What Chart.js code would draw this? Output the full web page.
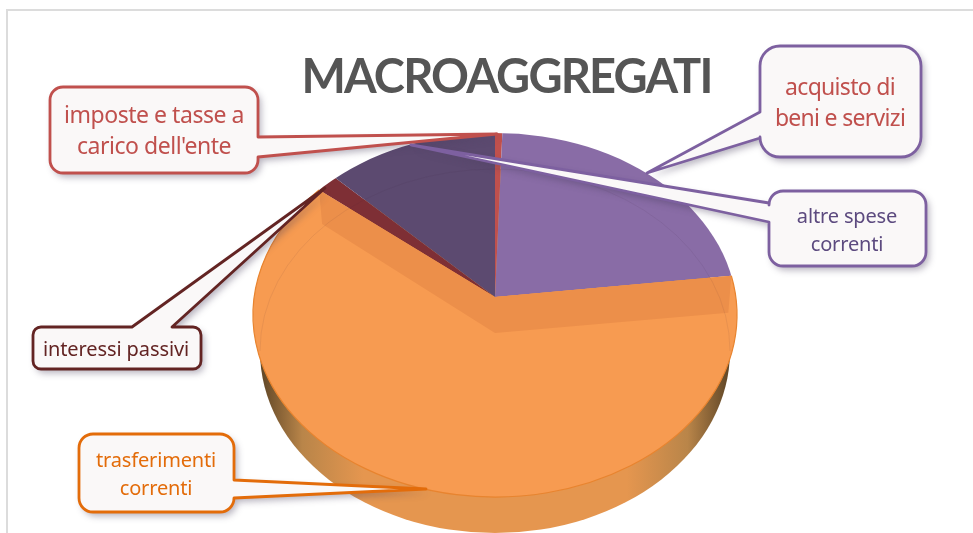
<!DOCTYPE html>
<html>
<head>
<meta charset="utf-8">
<script src="https://cdn.jsdelivr.net/npm/chart.js@4/dist/chart.umd.min.js"></script>
<style>
html,body{margin:0;padding:0;background:#fff;overflow:hidden;}
#cornice{position:absolute;left:6px;top:9px;right:0;bottom:0;border-left:2px solid #dcdcdc;border-top:2px solid #dcdcdc;}
#grafico{position:absolute;left:0;top:0;}
</style>
</head>
<body>
<div id="cornice"></div>
<canvas id="grafico" width="973" height="533"></canvas>
<script>
var titolo = "MACROAGGREGATI";
var etichette = [
    ["imposte e tasse a","carico dell'ente"],
    ["acquisto di","beni e servizi"],
    ["trasferimenti","correnti"],
    ["interessi passivi"],
    ["altre spese","correnti"]
];
var percentuali = [0.55, 22.6, 62.5, 1.6, 12.75];
var colori = ["#c0504d","#896ca6","#f79b51","#7e2f35","#5c4a70"];

// faccia superiore: ellisse e vertice delle fette, come nel 3D originale
var vertice = {x:495, y:297};
var faccia = {x:495, y:315, rx:242, ry:182};
var fondo = {x:495, y:351, rx:235, ry:182};

var fumetti = [
    {i:0, x:50, y:87, w:208, h:86, r:13, lato:"d", a:137, b:157, px:497, py:134, bordo:"#c0504d", testo:"#c0504d", font:23, sp:-0.47, cx:154, cy:116, riga:31},
    {i:1, x:760, y:46, w:161, h:111, r:20, lato:"s", a:112, b:138, px:647, py:173, bordo:"#7d60a0", testo:"#c0504d", font:23, sp:-0.7, cx:840, cy:88, riga:31},
    {i:4, x:769, y:191, w:157, h:75, r:14, lato:"s", a:203, b:222, px:411, py:145, bordo:"#7d60a0", testo:"#5c4a7f", font:20, sp:-0.15, cx:847, cy:217, riga:28},
    {i:3, x:33, y:327, w:168, h:42, r:8, lato:"t", a:132, b:172, px:325, py:188, bordo:"#632423", testo:"#632423", font:20, sp:-0.1, cx:116, cy:350, riga:28},
    {i:2, x:79, y:434, w:155, h:78, r:14, lato:"d", a:480, b:498, px:426, py:489, bordo:"#e36c0a", testo:"#e36c0a", font:20, sp:-0.15, cx:156, cy:461, riga:28}
];

function puntoBordo(ang){
    // dove il raggio dal vertice incontra l'ellisse della faccia
    var dx = Math.cos(ang)*1.3, dy = Math.sin(ang);
    var oy = vertice.y-faccia.y;
    var A = dx*dx/(faccia.rx*faccia.rx)+dy*dy/(faccia.ry*faccia.ry);
    var B = 2*dy*oy/(faccia.ry*faccia.ry);
    var C = oy*oy/(faccia.ry*faccia.ry)-1;
    var t = (-B+Math.sqrt(B*B-4*A*C))/(2*A);
    return {x:vertice.x+dx*t, y:vertice.y+dy*t};
}

function pathFumetto(ctx,f){
    var x=f.x,y=f.y,w=f.w,h=f.h,r=f.r;
    ctx.beginPath();
    ctx.moveTo(x+r,y);
    if(f.lato=="t"){ ctx.lineTo(f.a,y); ctx.lineTo(f.px,f.py); ctx.lineTo(f.b,y); }
    ctx.lineTo(x+w-r,y);
    ctx.arcTo(x+w,y,x+w,y+r,r);
    if(f.lato=="d"){ ctx.lineTo(x+w,f.a); ctx.lineTo(f.px,f.py); ctx.lineTo(x+w,f.b); }
    ctx.lineTo(x+w,y+h-r);
    ctx.arcTo(x+w,y+h,x+w-r,y+h,r);
    ctx.lineTo(x+r,y+h);
    ctx.arcTo(x,y+h,x,y+h-r,r);
    if(f.lato=="s"){ ctx.lineTo(x,f.b); ctx.lineTo(f.px,f.py); ctx.lineTo(x,f.a); }
    ctx.lineTo(x,y+r);
    ctx.arcTo(x,y,x+r,y,r);
    ctx.closePath();
}

var torta3d = {
    id:"torta3d",
    afterLayout:function(chart){
        // il titolo nell'originale non e centrato sulla pagina
        chart.titleBlock.left += 20;
        chart.titleBlock.right += 20;
    },
    beforeDraw:function(chart){
        chart.ctx.letterSpacing = "-1.8px";
    },
    beforeDatasetsDraw:function(chart){
        var ctx = chart.ctx;
        ctx.letterSpacing = "0px";
        var el = chart.getDatasetMeta(0).data[0];
        // parete laterale
        var g = ctx.createLinearGradient(fondo.x-fondo.rx,0,fondo.x+fondo.rx,0);
        g.addColorStop(0,"#5e4526");
        g.addColorStop(0.09,"#b98549");
        g.addColorStop(0.22,"#e5964f");
        g.addColorStop(0.78,"#e5964f");
        g.addColorStop(0.91,"#b98549");
        g.addColorStop(1,"#5e4526");
        ctx.save();
        ctx.fillStyle = g;
        ctx.beginPath();
        ctx.ellipse(fondo.x,fondo.y,fondo.rx,fondo.ry,0,0,Math.PI*2);
        ctx.fill();
        ctx.restore();
        // le fette si tagliano sull'ellisse della faccia
        ctx.save();
        ctx.beginPath();
        ctx.ellipse(faccia.x,faccia.y,faccia.rx,faccia.ry,0,0,Math.PI*2);
        ctx.clip();
        ctx.translate(vertice.x,vertice.y);
        ctx.scale(273/el.outerRadius,210/el.outerRadius);
        ctx.translate(-el.x,-el.y);
    },
    afterDatasetsDraw:function(chart){
        var ctx = chart.ctx;
        ctx.restore();
        var arco = chart.getDatasetMeta(0).data[2];
        var p1 = puntoBordo(arco.startAngle), p2 = puntoBordo(arco.endAngle);

        ctx.save();
        ctx.beginPath();
        ctx.ellipse(faccia.x,faccia.y,faccia.rx,faccia.ry,0,0,Math.PI*2);
        ctx.clip();
        // pareti interne viste in trasparenza
        ctx.fillStyle = "#ec8f4a";
        ctx.beginPath();
        ctx.moveTo(p1.x,p1.y);
        ctx.lineTo(vertice.x,vertice.y);
        ctx.lineTo(p2.x,p2.y);
        ctx.lineTo(p2.x+3,p2.y+34);
        ctx.lineTo(vertice.x,vertice.y+36);
        ctx.lineTo(p1.x-3,p1.y+37);
        ctx.closePath();
        ctx.fill();
        // bordo posteriore del fondo
        ctx.strokeStyle = "rgba(60,40,70,0.08)";
        ctx.lineWidth = 1;
        ctx.beginPath();
        ctx.ellipse(fondo.x,fondo.y,fondo.rx,fondo.ry,0,Math.PI,Math.PI*2);
        ctx.stroke();
        ctx.restore();

        // filo arancione sul bordo della fetta grande
        var a1 = Math.atan2((p1.y-faccia.y)/faccia.ry,(p1.x-faccia.x)/faccia.rx);
        var a2 = Math.atan2((p2.y-faccia.y)/faccia.ry,(p2.x-faccia.x)/faccia.rx);
        ctx.strokeStyle = "#e8842f";
        ctx.lineWidth = 1.2;
        ctx.beginPath();
        ctx.ellipse(faccia.x,faccia.y,faccia.rx,faccia.ry,0,a1,a2);
        ctx.stroke();

        // fumetti
        fumetti.forEach(function(f){
            ctx.save();
            pathFumetto(ctx,f);
            ctx.shadowColor = "rgba(70,60,90,0.4)";
            ctx.shadowBlur = 7;
            ctx.shadowOffsetX = 3;
            ctx.shadowOffsetY = 4;
            ctx.fillStyle = "#faf8f8";
            ctx.fill();
            ctx.restore();
            ctx.save();
            pathFumetto(ctx,f);
            ctx.strokeStyle = f.bordo;
            ctx.lineWidth = 2.8;
            ctx.lineJoin = "round";
            ctx.stroke();
            ctx.fillStyle = f.testo;
            ctx.font = f.font+'px "Noto Sans"';
            ctx.letterSpacing = f.sp+"px";
            ctx.textAlign = "center";
            ctx.textBaseline = "middle";
            etichette[f.i].forEach(function(t,n){
                ctx.fillText(t,f.cx,f.cy+n*f.riga);
            });
            ctx.restore();
        });
    }
};

var chart = new Chart(document.getElementById("grafico").getContext("2d"),{
    type:"pie",
    plugins:[torta3d],
    data:{
        labels:etichette,
        datasets:[{data:percentuali, backgroundColor:colori, borderWidth:0, clip:false}]
    },
    options:{
        responsive:false,
        animation:false,
        layout:{padding:{left:0,right:0,top:0,bottom:0}},
        plugins:{
            legend:{display:false},
            tooltip:{enabled:false},
            title:{
                display:true,
                text:titolo,
                color:"#555555",
                font:{family:'Lato',size:47,weight:"bold",lineHeight:1.2},
                padding:{top:50,bottom:6}
            }
        }
    }
});
</script>
</body>
</html>
